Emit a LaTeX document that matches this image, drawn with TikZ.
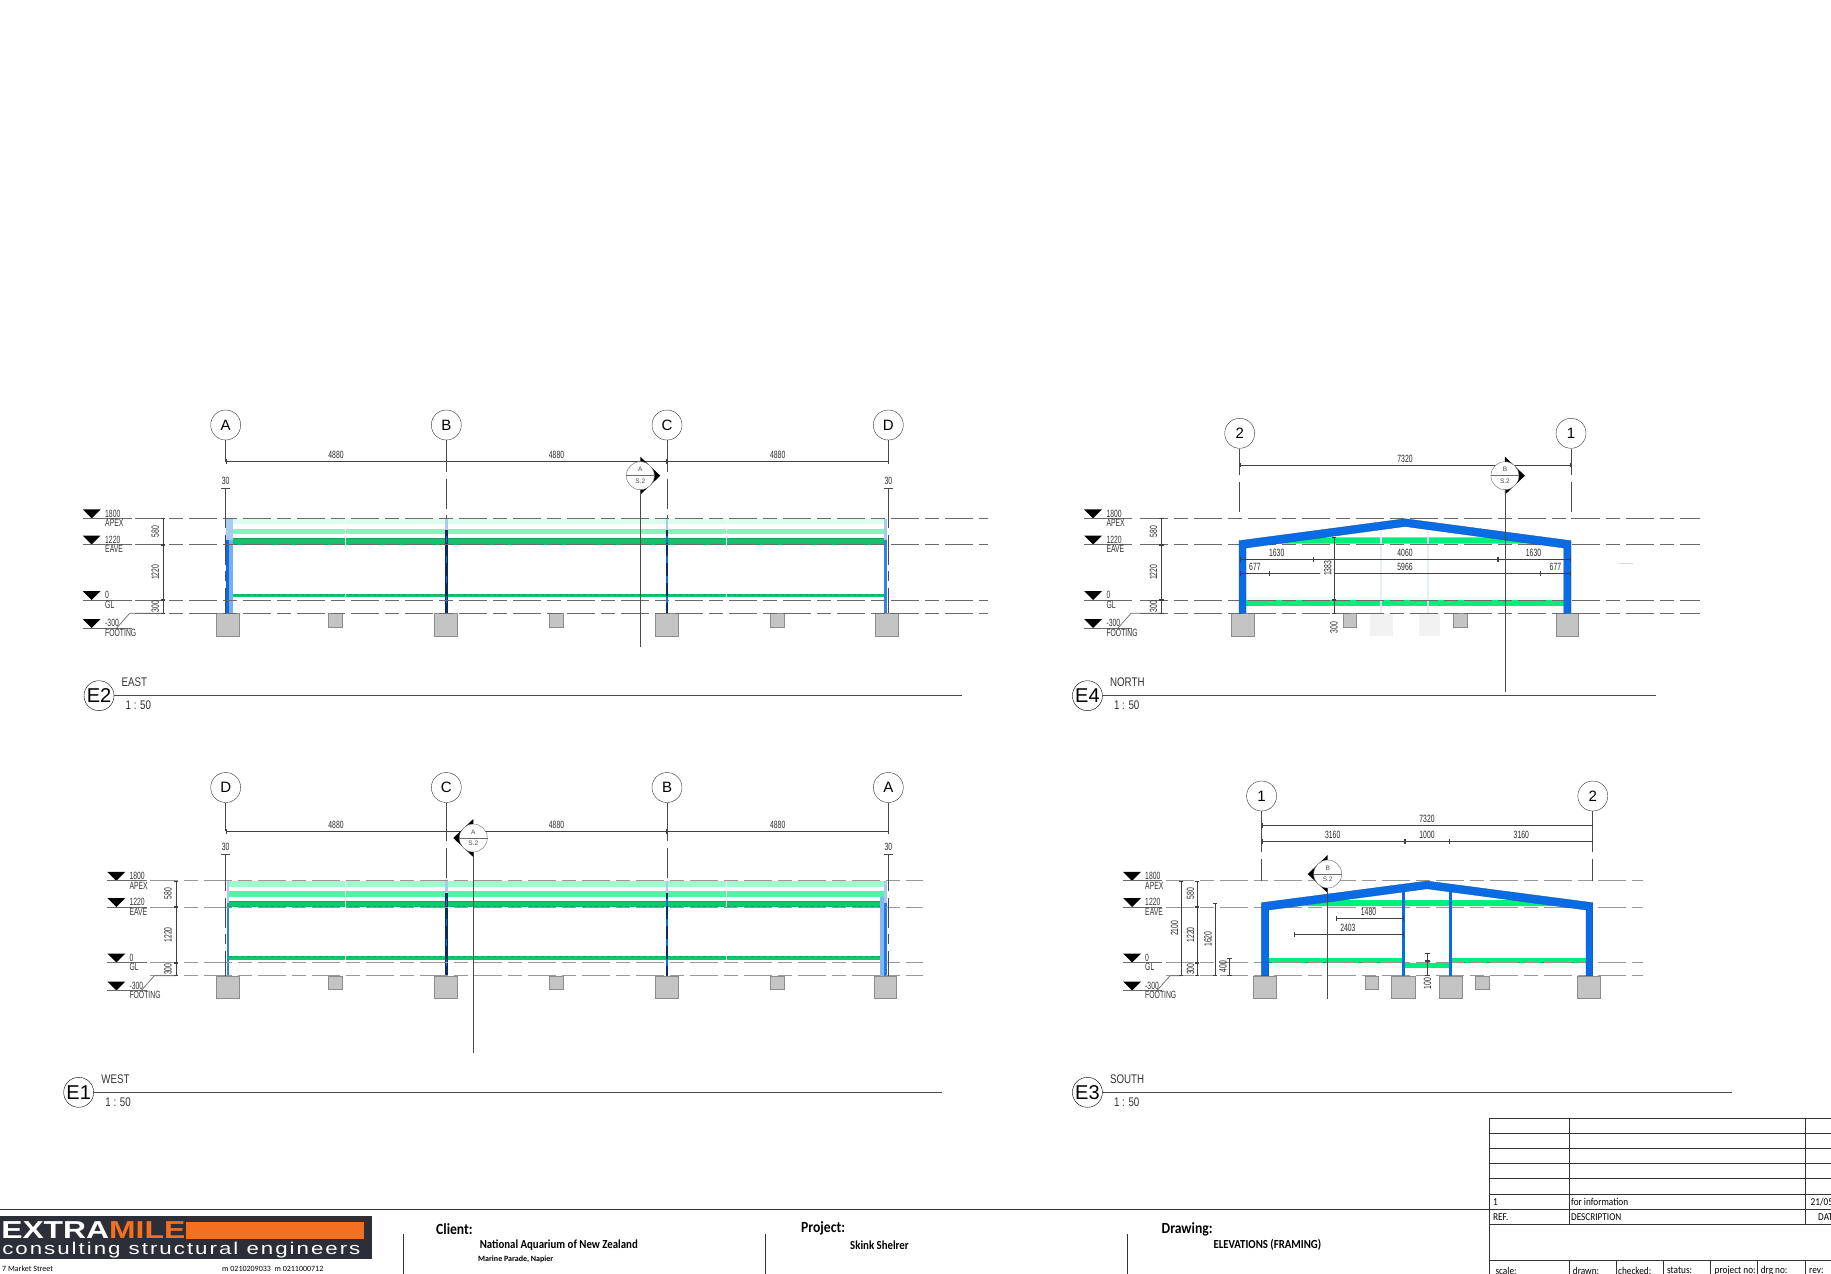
\documentclass[tikz,border=0pt]{standalone}
\usepackage{fontspec}
\setmainfont{Carlito}
\newfontfamily\dimfont[FakeStretch=0.65]{Liberation Sans}
\newfontfamily\titlefont[FakeStretch=0.78]{Liberation Sans}
\newfontfamily\bubblefont{Liberation Sans}
\newfontfamily\blockfont[FakeStretch=0.88]{Carlito}
\usetikzlibrary{arrows.meta}
\definecolor{frameblue}{HTML}{0A6CE4}
\definecolor{coldark}{HTML}{0B2C5E}
\definecolor{coltop}{HTML}{A9CBF0}
\definecolor{palecol}{HTML}{E6EFF9}
\definecolor{sprgreen}{HTML}{00EE7C}
\definecolor{bardark}{HTML}{1E9C5C}
\definecolor{footgrey}{HTML}{C4C4C4}
\definecolor{linegrey}{HTML}{6A6A6A}
\definecolor{logodark}{HTML}{2C2F38}
\definecolor{logoorange}{HTML}{F37021}

% one mark with its two texts per level
\newcommand{\levelmarks}[4]{
	\foreach \ylev/\labup/\labdn/\tag in {518.3/1800/APEX/ap,544.5/1220/EAVE/ev,600/0/GL/gl,628/-300/FOOTING/ft} {
		\fill (#1,\ylev-9) -- (#1+18,\ylev-9) -- (#1+9,\ylev) -- cycle;
		\draw [thinline] (#1,\ylev) -- (#2,\ylev);
		\node (up\tag) at (#3,\ylev-4.7) [levtext] {\labup};
		\node (dn\tag) at (#3,\ylev+4.7) [levtext] {\labdn};
	}
	\draw [thinline] ({#1+34},628) -- ({#1+47},613.3) -- (#4,613.3);
}
% 580, 1220 and 300 stacked up
\newcommand{\leveldim}[2]{
	\coordinate (dap) at (#1,518.3);
	\coordinate (dev) at (#1,544.5);
	\coordinate (dgl) at (#1,600);
	\coordinate (dft) at (#1,613.3);
	\draw [dimline] (dap) -- (dev);
	\draw [dimline] (dev) -- (dgl);
	\draw [dimline] (dgl) -- (dft);
	\node (t580) at (#2,531.3) [dimv] {580};
	\node (t1220) at (#2,572.3) [dimv] {1220};
	\node (t300) at (#2,606.7) [dimv] {300};
}
\newcommand{\levellines}[2]{
	\foreach \ylev in {518.3,544.5,600,613.3}
		\draw [levelline] (#1,\ylev) -- (#2,\ylev);
}
% section marker: name, x, y, direction, letter, end of cut line
\newcommand{\secmark}[6]{
	\fill (#2,#3-19) -- (#2+#4*20,#3) -- (#2,#3+19) -- cycle;
	\node (#1) at (#2,#3) [circle,draw=linegrey,fill=white,minimum size=28pt,inner sep=0pt] {};
	\draw [thinline] (#1.west) -- (#1.east);
	\node (#1up) at (#2,#3-6) [sectext] {#5};
	\node (#1dn) at (#2,#3+5.5) [sectext] {S.2};
	\coordinate (#1end) at (#2,#6);
	\draw [gridline] (#1.south) -- (#1end);
}
% tag circle, view name, scale
\newcommand{\viewtitle}[6]{
	\node (#1) at (#2,#3) [circle,draw,minimum size=30pt,inner sep=0pt,font=\bubblefont\fontsize{20}{20}\selectfont] {#1};
	\coordinate (#1end) at (#4,#3);
	\draw [gridline] (#1.east) -- (#1end);
	\node (#1name) at (#2+22.5,#3-13.5) [viewtext] {#5};
	\node (#1scale) at (#2+26.5,#3+9.5) [viewtext] {#6};
}
% the four column lines of a long view
\newcommand{\longgrid}[6]{
	\foreach \gx/\gname/\glab in {225.7/g1/#1,446.3/g2/#2,667/g3/#3,888.3/g4/#4} {
		\node (\gname) at (\gx,425) [bubble] {\glab};
		\coordinate (\gname dim) at (\gx,#5);
		\coordinate (\gname top) at (\gx,518.3);
		\draw [gridline] (\gname) -- (\gname dim);
	}
	\draw [griddash] (g2dim) -- (g2top);
	\draw [griddash] (g3dim) -- (g3top);
	\draw [dimline] (g1dim) -- (g2dim);
	\draw [dimline] (g2dim) -- (g3dim);
	\draw [dimline] (g3dim) -- (g4dim);
	\node (d12) at (336,#5-6.5) [dimtext] {4880};
	\node (d23) at (556.5,#5-6.5) [dimtext] {4880};
	\node (d34) at (777.7,#5-6.5) [dimtext] {4880};
	\foreach \gname/\gx in {g1/225.7,g4/888.3} {
		\coordinate (\gname tick) at (\gx,#6);
		\draw [{Bar[width=9pt]}-,gridline] (\gname tick) -- (\gname top);
		\node (\gname txt) at (\gx,#6-7) [dimtext] {30};
	}
}
% the girts and footings of a long view
\newcommand{\longbars}{
	\fill [band1] (229.3,518.8) rectangle (884,524.2);
	\fill [band2] (229.3,528.8) rectangle (884,534.3);
	\fill [band3] (229.3,538.4) rectangle (884,544.6);
	\fill [band3] (229.3,593.8) rectangle (884,597);
	\draw [bardark] (229.3,538.6) -- (884,538.6);
	\draw [bardark,dashed] (229.3,594) -- (884,594);
	\draw [bardark,dashed] (229.3,544) -- (884,544);
	\draw [white,very thin] (345,518.8) -- (345,544.6) (725.7,518.8) -- (725.7,544.6);
	\draw [white,very thin] (345,593.8) -- (345,597) (725.7,593.8) -- (725.7,597);
	\foreach \fa/\fb in {216.7/239,434.3/457.7,655.3/678.7}
		\path [footing] (\fa,613.3) rectangle (\fb,636);
	\foreach \fa/\fb in {328.7/342.7,549.3/563.7,770.3/784}
		\path [footing] (\fa,613.3) rectangle (\fb,627);
	\foreach \cx in {446.3,667} {
		\fill [coltop] (\cx-1.2,518.8) rectangle (\cx+1.2,530);
		\fill [coldark] (\cx-1.4,530) rectangle (\cx+1.4,613.3);
		\draw [frameblue,line width=1.4pt,dash pattern=on 7pt off 13pt] (\cx,536) -- (\cx,613.3);
	}
}

\begin{document}
\begin{tikzpicture}[x=1pt,y=-1pt]
	\tikzstyle{thinline}=[draw=linegrey,line width=0.7pt]
	\tikzstyle{gridline}=[draw=linegrey!70!black,line width=0.8pt]
	\tikzstyle{griddash}=[draw=linegrey!70!black,line width=0.8pt,dash pattern=on 10pt off 7pt on 30pt off 6pt]
	\tikzstyle{levelline}=[draw=linegrey,line width=0.7pt,dash pattern=on 28pt off 6pt on 14pt off 6pt]
	\tikzstyle{dimline}=[draw=black!75,line width=0.7pt,{Bar[width=4.5pt]}-{Bar[width=4.5pt]}]
	\tikzstyle{dimtext}=[inner sep=0pt,text=black!85,font=\dimfont\fontsize{10.5}{11}\selectfont]
	\tikzstyle{dimv}=[dimtext,rotate=90]
	\tikzstyle{levtext}=[anchor=west,inner sep=0pt,text=black!80,font=\dimfont\fontsize{10.5}{11}\selectfont]
	\tikzstyle{sectext}=[inner sep=0pt,text=black!70,font=\bubblefont\fontsize{6.5}{7}\selectfont]
	\tikzstyle{viewtext}=[anchor=west,inner sep=0pt,text=black!80,font=\titlefont\fontsize{12.5}{13}\selectfont]
	\tikzstyle{bubble}=[circle,draw=black!80,minimum size=30pt,inner sep=0pt,font=\bubblefont\fontsize{15}{15}\selectfont]
	\tikzstyle{footing}=[fill=footgrey,draw=black!45,line width=0.5pt]
	\tikzstyle{frame}=[fill=frameblue,draw=frameblue!70!black,line width=0.3pt]
	\tikzstyle{cellline}=[draw=black!80,line width=0.9pt]
	\tikzstyle{cell}=[anchor=west,inner sep=0pt,font=\blockfont\fontsize{10.5}{11}\selectfont]
	\tikzstyle{head}=[anchor=west,inner sep=0pt,font=\blockfont\bfseries\fontsize{15.5}{16}\selectfont]
	\tikzstyle{subhead}=[anchor=west,inner sep=0pt,font=\blockfont\bfseries\fontsize{12.3}{13}\selectfont]
	\useasboundingbox (0,0) rectangle (1831,1274);
	\clip (0,0) rectangle (1831,1274);

	% E2 east
	\begin{scope}[name prefix=etwo-,band1/.style={fill=sprgreen!14},band2/.style={fill=sprgreen!50},band3/.style={fill=bardark!50!sprgreen}]
		\longbars
		\path [footing] (875,613.3) rectangle (898.7,636);
		\fill [coltop] (226,518.8) rectangle (233,540);
		\fill [frameblue!55] (229,540) rectangle (233,613.3);
		\fill [frameblue] (226,540) rectangle (229,613.3);
		\fill [coltop] (884.3,518.8) rectangle (886.7,540);
		\fill [frameblue!85] (884.3,540) rectangle (886.7,613.3);
		\levellines{135}{988}
		\longgrid{A}{B}{C}{D}{461.7}{488}
		\draw [griddash] (g1top) ++(0,0) -- (225.7,613.3);
		\draw [griddash] (g4top) ++(0,0) -- (888.3,613.3);
		\levelmarks{82.7}{131.7}{105}{163}
		\leveldim{163}{155.3}
		\secmark{secA}{640.3}{475.7}{1}{A}{646.7}
		\viewtitle{E2}{99}{695.7}{962}{EAST}{1 : 50}
	\end{scope}

	% E1 west
	\begin{scope}[yshift=-362.5pt,name prefix=eone-,levelline/.append style={draw=linegrey!70,line width=1pt},band1/.style={fill=sprgreen!38},band2/.style={fill=sprgreen!68},band3/.style={fill=bardark!45!sprgreen}]
		\longbars
		\path [footing] (874.3,613.3) rectangle (896.7,636);
		\fill [coltop] (226.7,518.8) rectangle (229,540);
		\fill [frameblue!85] (226.7,540) rectangle (229,613.3);
		\fill [frameblue!50] (880,534) rectangle (884,613.3);
		\fill [coltop] (884,518.8) rectangle (887,540);
		\fill [frameblue!90] (884,540) rectangle (887,613.3);
		\levellines{150}{922.7}
		\longgrid{D}{C}{B}{A}{468.8}{491.5}
		\draw [griddash] (g1top) ++(0,0) -- (225.7,613.3);
		\draw [griddash] (g4top) ++(0,0) -- (888.3,613.3);
		\levelmarks{107.3}{146.7}{129.3}{176}
		\leveldim{176}{168}
		\secmark{secA}{473.3}{475.5}{-1}{A}{690.8}
		\viewtitle{E1}{78.7}{729.8}{941.7}{WEST}{1 : 50}
	\end{scope}

	% E4 north
	\begin{scope}[name prefix=efour-]
		\fill [sprgreen!8] (1246,596.7) rectangle (1564,600);
		\fill [sprgreen] (1246,600) rectangle (1564,606);
		\fill [sprgreen] (1270,543.5) -- (1307,537.3) -- (1503,537.3) -- (1544,543.5) -- cycle;
		\fill [palecol] (1379.5,525) rectangle (1382,613.3);
		\fill [palecol] (1426.8,525) rectangle (1429.3,613.3);
		\fill [black!5] (1370,613.3) rectangle (1392.5,636);
		\fill [black!5] (1418.6,613.3) rectangle (1440,636);
		\foreach \fa/\fb in {1231.3/1254.4,1555.8/1578.5}
			\path [footing] (\fa,613.3) rectangle (\fb,636);
		\foreach \fa/\fb in {1343.3/1356.7,1453.5/1467}
			\path [footing] (\fa,613.3) rectangle (\fb,627);
		\levellines{1140}{1699.7}
		\path [frame] (1239,613.3) -- (1239,540.7) -- (1405,518.7) -- (1571,540.7) -- (1571,613.3) -- (1563.8,613.3) -- (1563.8,548) -- (1405,526.5) -- (1246,548) -- (1246,613.3) -- cycle;
		\levelmarks{1084}{1131.5}{1106.3}{1161.4}
		\leveldim{1161.4}{1153.4}
		\node (gtwo) at (1239.7,433.3) [bubble] {2};
		\node (gone) at (1571,433.3) [bubble] {1};
		\coordinate (gtwodim) at (1239.7,465);
		\coordinate (gonedim) at (1571,465);
		\coordinate (gtwotop) at (1239.7,518.3);
		\coordinate (gonetop) at (1571,518.3);
		\draw [gridline] (gtwo) -- (gtwodim);
		\draw [gridline] (gone) -- (gonedim);
		\draw [griddash] (gtwodim) -- (gtwotop);
		\draw [griddash] (gonedim) -- (gonetop);
		\draw [dimline] (gtwodim) -- (gonedim);
		\node (tall) at (1405,458.7) [dimtext] {7320};
		\coordinate (ua) at (1239.7,559.3);
		\coordinate (ub) at (1313.4,559.3);
		\coordinate (uc) at (1497.7,559.3);
		\coordinate (ud) at (1571,559.3);
		\draw [dimline] (ua) -- (ub);
		\draw [dimline] (ub) -- (uc);
		\draw [dimline] (uc) -- (ud);
		\node (tua) at (1276.7,552.7) [dimtext] {1630};
		\node (tub) at (1405,552.7) [dimtext] {4060};
		\node (tuc) at (1533.5,552.7) [dimtext] {1630};
		\coordinate (la) at (1239.7,573.3);
		\coordinate (lb) at (1270,573.3);
		\coordinate (lc) at (1320,573.3);
		\coordinate (ld) at (1334,573.3);
		\coordinate (le) at (1540,573.3);
		\coordinate (lf) at (1571,573.3);
		\draw [dimline] (la) -- (lb);
		\draw [dimline,-] (lb) -- (lc);
		\draw [dimline,-] (ld) -- (le);
		\draw [dimline] (le) -- (lf);
		\node (tla) at (1254.9,566.7) [dimtext] {677};
		\node (tlb) at (1405,566.7) [dimtext] {5966};
		\node (tlc) at (1555.4,566.7) [dimtext] {677};
		\coordinate (va) at (1334,537.3);
		\coordinate (vb) at (1334,600);
		\coordinate (vc) at (1334,613.3);
		\draw [dimline] (va) -- (vb);
		\draw [dimline] (vb) -- (vc);
		\node (tva) at (1327.7,568.3) [dimv] {1383};
		\node (tvb) at (1334,627.7) [dimv] {300};
		\coordinate (marka) at (1619,563);
		\coordinate (markb) at (1633,563);
		\draw [black!15,line width=0.8pt] (marka) -- (markb);
		\secmark{secB}{1504.9}{475.7}{1}{B}{691.7}
		\viewtitle{E4}{1087.4}{695.7}{1655.5}{NORTH}{1 : 50}
	\end{scope}

	% E3 south
	\begin{scope}[yshift=-362.5pt,name prefix=ethree-,levelline/.append style={draw=linegrey!70,line width=1pt}]
		\fill [sprgreen!8] (1269,600.8) rectangle (1586,605.8);
		\fill [sprgreen] (1268.8,595.5) rectangle (1403,600.8);
		\fill [sprgreen] (1451,595.5) rectangle (1586,600.8);
		\fill [sprgreen] (1404,600.2) rectangle (1450,605.2);
		\fill [sprgreen] (1302,543.5) -- (1340,537.5) -- (1514,537.5) -- (1556.6,543.5) -- cycle;
		\draw [bardark,dashed] (1269,600) -- (1403,600);
		\draw [bardark,dashed] (1451,600) -- (1586,600);
		\foreach \fa/\fb in {1253.6/1276.7,1391.2/1414.8,1439.2/1462.4,1577.3/1600.4}
			\path [footing] (\fa,613.3) rectangle (\fb,636);
		\foreach \fa/\fb in {1365/1378.6,1475.4/1489.3}
			\path [footing] (\fa,613.3) rectangle (\fb,626.8);
		\levellines{1166}{1643}
		\fill [frameblue] (1402.2,526) rectangle (1404.6,613.3);
		\fill [frameblue] (1449.4,526) rectangle (1451.8,613.3);
		\path [frame] (1261.6,613.3) -- (1261.6,540.2) -- (1427,518.5) -- (1592.8,540.2) -- (1592.8,613.3) -- (1586,613.3) -- (1586,547.5) -- (1427,526.3) -- (1268.8,547.5) -- (1268.8,613.3) -- cycle;
		\levelmarks{1123}{1161.9}{1145}{1181.2}
		\leveldim{1197.2}{1190.5}
		\node (gone) at (1261.6,433.5) [bubble] {1};
		\node (gtwo) at (1592.8,433.5) [bubble] {2};
		\coordinate (gonedim) at (1261.6,463.2);
		\coordinate (gtwodim) at (1592.8,463.2);
		\coordinate (gonemid) at (1261.6,479.2);
		\coordinate (gtwomid) at (1592.8,479.2);
		\coordinate (gonetop) at (1261.6,518.3);
		\coordinate (gtwotop) at (1592.8,518.3);
		\draw [gridline] (gone) -- (gonedim);
		\draw [gridline] (gtwo) -- (gtwodim);
		\draw [gridline] (gonedim) -- (gonemid);
		\draw [gridline] (gtwodim) -- (gtwomid);
		\draw [griddash] (gonemid) -- (gonetop);
		\draw [griddash] (gtwomid) -- (gtwotop);
		\draw [dimline] (gonedim) -- (gtwodim);
		\node (tall) at (1427,456.5) [dimtext] {7320};
		\coordinate (ua) at (1261.6,479.2);
		\coordinate (ub) at (1405,479.2);
		\coordinate (uc) at (1449.3,479.2);
		\coordinate (ud) at (1592.8,479.2);
		\draw [dimline] (ua) -- (ub);
		\draw [dimline] (ub) -- (uc);
		\draw [dimline] (uc) -- (ud);
		\node (tua) at (1332.7,472.5) [dimtext] {3160};
		\node (tub) at (1427,472.5) [dimtext] {1000};
		\node (tuc) at (1521.3,472.5) [dimtext] {3160};
		\coordinate (wa) at (1181.2,518.3);
		\coordinate (wb) at (1181.2,613.3);
		\draw [dimline] (wa) -- (wb);
		\node (twa) at (1174.5,565.8) [dimv] {2100};
		\coordinate (xa) at (1214.9,540.2);
		\coordinate (xb) at (1214.9,613.3);
		\draw [dimline] (xa) -- (xb);
		\node (txa) at (1208,576.5) [dimv] {1620};
		\coordinate (ya) at (1229.6,595.2);
		\coordinate (yb) at (1229.6,613.3);
		\draw [dimline] (ya) -- (yb);
		\node (tya) at (1222.9,604.2) [dimv] {400};
		\coordinate (pa) at (1335.7,556.2);
		\coordinate (pb) at (1403.4,556.2);
		\draw [dimline] (pa) -- (pb);
		\node (tpa) at (1368.5,549.8) [dimtext] {1480};
		\coordinate (qa) at (1293.6,571.8);
		\coordinate (qb) at (1403.4,571.8);
		\draw [dimline] (qa) -- (qb);
		\node (tqa) at (1347.9,565.2) [dimtext] {2403};
		\coordinate (ra) at (1427.4,590.8);
		\coordinate (rb) at (1427.4,598.5);
		\coordinate (rc) at (1427.4,613.3);
		\draw [dimline] (ra) -- (rb);
		\draw [dimline] (rb) -- (rc);
		\node (tra) at (1427.4,620.8) [dimv] {100};
		\secmark{secB}{1327.7}{511.5}{-1}{B}{636.8}
		\viewtitle{E3}{1087.4}{729.8}{1731.7}{SOUTH}{1 : 50}
	\end{scope}

	% title block
	\coordinate (rulea) at (0,1209);
	\coordinate (ruleb) at (1489.3,1209);
	\draw [cellline] (rulea) -- (ruleb);
	\foreach \rowy in {1118.3,1133.3,1148.3,1163.3,1178.7,1194.3,1209,1224.3}
		\draw [cellline] (1489.3,\rowy) -- (1831,\rowy);
	\draw [cellline] (1489.3,1260) -- (1831,1260);
	\draw [cellline] (1489.3,1118.3) -- (1489.3,1274);
	\draw [cellline] (1569,1118.3) -- (1569,1224.3);
	\draw [cellline] (1805,1118.3) -- (1805,1224.3);
	\foreach \colx in {1569,1616.5,1663,1710.7,1757.3,1805}
		\draw [cellline] (\colx,1260) -- (\colx,1274);
	\node (refone) at (1493,1202.3) [cell] {1};
	\node (descone) at (1570.9,1202.3) [cell] {for information};
	\node (dateone) at (1810.5,1202.3) [cell] {21/05};
	\node (refhead) at (1493,1217.3) [cell] {REF.};
	\node (deschead) at (1570.9,1217.3) [cell] {DESCRIPTION};
	\node (datehead) at (1818,1217.3) [cell] {DAT};
	\node (scale) at (1495.3,1270.5) [cell] {scale:};
	\node (drawn) at (1572.7,1270.5) [cell] {drawn:};
	\node (checked) at (1618,1270.5) [cell] {checked:};
	\node (status) at (1667,1270.5) [cell] {status:};
	\node (projno) at (1714.5,1270.5) [cell] {project no:};
	\node (drgno) at (1760.6,1270.5) [cell] {drg no:};
	\node (rev) at (1809,1270.5) [cell] {rev:};
	\node (client) at (436,1229) [head] {Client:};
	\node (clientname) at (479.6,1245) [subhead] {National Aquarium of New Zealand};
	\node (clientaddr) at (478,1259) [anchor=west,inner sep=0pt,font=\bfseries\fontsize{8}{9}\selectfont] {Marine Parade, Napier};
	\node (project) at (801,1228) [head] {Project:};
	\node (projname) at (850,1245) [subhead] {Skink Shelrer};
	\node (drawing) at (1161.5,1229) [head] {Drawing:};
	\node (drawname) at (1213.3,1245) [subhead] {ELEVATIONS (FRAMING)};
	\foreach \sepx in {403,765,1127}
		\draw [draw=black!80,line width=0.8pt] (\sepx,1234) -- (\sepx,1274);

	% logo
	\fill [logodark] (0,1216) rectangle (372,1259);
	\fill [logoorange] (186,1221.7) rectangle (363.8,1239.3);
	\node (logotop) at (1,1230.5) [anchor=west,inner sep=0pt,xscale=1.3,font=\bfseries\fontsize{24.5}{25}\bubblefont\selectfont,text=white] {EXTRA\textcolor{logoorange}{MILE}};
	\node (logosub) at (2,1250.5) [anchor=west,inner sep=0pt,xscale=1.31,text=white,font=\fontsize{17}{18}\selectfont\bubblefont\addfontfeature{LetterSpace=9}] {consulting structural engineers};
	\node (addrone) at (2,1268.5) [anchor=west,inner sep=0pt,font=\fontsize{8}{9}\selectfont] {7 Market Street};
	\node (addrtwo) at (222,1268.5) [anchor=west,inner sep=0pt,font=\fontsize{8}{9}\selectfont] {m 0210209033 \ m 0211000712};
\end{tikzpicture}
\end{document}
